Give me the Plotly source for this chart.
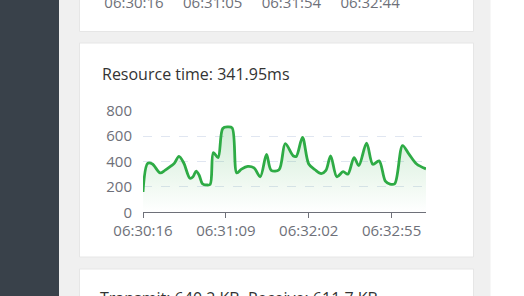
import plotly.graph_objects as go
from datetime import datetime

# ---------------- data ----------------
times = ["06:30:16", "06:30:19", "06:30:22", "06:30:27", "06:30:30", "06:30:34", "06:30:36",
         "06:30:39", "06:30:42", "06:30:46", "06:30:48", "06:30:50", "06:30:52", "06:30:54",
         "06:30:57", "06:30:59", "06:31:01", "06:31:04", "06:31:07", "06:31:10", "06:31:13",
         "06:31:16", "06:31:19", "06:31:23", "06:31:27", "06:31:31", "06:31:35", "06:31:38",
         "06:31:43", "06:31:47", "06:31:52", "06:31:54", "06:31:58", "06:32:02", "06:32:06",
         "06:32:10", "06:32:13", "06:32:16", "06:32:20", "06:32:24", "06:32:27", "06:32:31",
         "06:32:34", "06:32:39", "06:32:43", "06:32:47", "06:32:51", "06:32:54", "06:32:57",
         "06:33:02", "06:33:06", "06:33:11", "06:33:17"]
resource_ms = [160, 385, 380, 310, 330, 365, 385,
               440, 390, 268, 280, 325, 290, 225,
               215, 220, 470, 430, 660, 672, 665,
               310, 340, 362, 350, 280, 455, 330,
               335, 540, 445, 440, 590, 380, 335,
               305, 330, 445, 280, 320, 300, 430,
               368, 545, 378, 405, 245, 222, 225,
               525, 460, 380, 341.95]
x_tick_labels = ["06:30:16", "06:31:09", "06:32:02", "06:32:55"]
y_ticks = [0, 200, 400, 600, 800]
top_card_labels = ["06:30:16", "06:31:05", "06:31:54", "06:32:44"]
title_text = "Resource time: 341.95ms"
bottom_text = "Transmit: 640.2 KB, Receive: 611.7 KB"

DAY = "2024-01-01 "
xs = [datetime.strptime(DAY + t, "%Y-%m-%d %H:%M:%S") for t in times]
tick_x = [datetime.strptime(DAY + t, "%Y-%m-%d %H:%M:%S") for t in x_tick_labels]

W, H = 524, 296
def px(x):
    return x / W
def py(y):
    return 1 - y / H

GREEN = "#2eab45"
AXIS = "#6e7079"
FONT = "Open Sans, Noto Sans, sans-serif"
TICK_SIZE = 15

fig = go.Figure()
fig.add_trace(go.Scatter(
    x=xs, y=resource_ms, mode="lines",
    line=dict(color=GREEN, width=2.8, shape="spline", smoothing=0.9),
    fill="tozeroy",
    fillgradient=dict(type="vertical",
                      colorscale=[[0, "rgba(46,171,69,0.0)"], [1, "rgba(46,171,69,0.22)"]]),
    hoverinfo="skip", showlegend=False,
))

# overlay page-level texts (clipped at the page edges like the reference)
fig.add_trace(go.Scatter(
    x=[134 + 78.7 * i for i in range(len(top_card_labels))], y=[4] * len(top_card_labels),
    text=top_card_labels, mode="text", textposition="middle center",
    textfont=dict(family=FONT, size=TICK_SIZE, color=AXIS), cliponaxis=True,
    xaxis="x2", yaxis="y2", hoverinfo="skip", showlegend=False,
))
fig.add_trace(go.Scatter(
    x=[100], y=[300], text=[bottom_text], mode="text", textposition="middle right",
    textfont=dict(family=FONT, size=16, color="#333333"), cliponaxis=True,
    xaxis="x2", yaxis="y2", hoverinfo="skip", showlegend=False,
))

shapes = [
    dict(type="rect", xref="paper", yref="paper", x0=px(59), x1=px(490.5), y0=0, y1=1,
         fillcolor="#f0f0f0", line=dict(width=0), layer="below"),
    dict(type="rect", xref="paper", yref="paper", x0=0, x1=px(59), y0=0, y1=1,
         fillcolor="#39414a", line=dict(width=0), layer="below"),
]
for (y0, y1) in [(-10, 31.5), (43, 257), (269, 310)]:
    shapes.append(dict(type="rect", xref="paper", yref="paper",
                       x0=px(79.5), x1=px(473.5), y0=py(y1), y1=py(y0),
                       fillcolor="#ffffff", line=dict(color="#e6e6e6", width=1), layer="below"))

annotations = [
    dict(text=title_text, xref="paper", yref="paper", x=px(100), y=py(74),
         xanchor="left", yanchor="middle", showarrow=False,
         font=dict(family=FONT, size=16, color="#333333")),
]

fig.update_layout(
    width=W, height=H, autosize=False,
    margin=dict(l=0, r=0, t=0, b=0, autoexpand=False),
    paper_bgcolor="#ffffff", plot_bgcolor="rgba(0,0,0,0)",
    shapes=shapes, annotations=annotations,
    xaxis=dict(domain=[px(143), px(426)], type="date",
               range=[xs[0], xs[-1]],
               tickvals=tick_x, ticktext=x_tick_labels,
               showgrid=False, zeroline=False,
               showline=True, linecolor=AXIS, linewidth=1,
               ticks="outside", ticklen=5, tickcolor=AXIS,
               tickfont=dict(family=FONT, size=TICK_SIZE, color=AXIS)),
    yaxis=dict(domain=[py(212.3), py(110.7)], range=[0, 800],
               tickvals=y_ticks, ticktext=[str(v) for v in y_ticks],
               showgrid=True, gridcolor="#e0e6f1", griddash="dash", gridwidth=1,
               zeroline=False, showline=False,
               ticks="outside", ticklen=7, tickcolor="rgba(0,0,0,0)",
               tickfont=dict(family=FONT, size=TICK_SIZE, color=AXIS)),
    xaxis2=dict(domain=[0, 1], range=[0, W], visible=False, anchor="y2", fixedrange=True),
    yaxis2=dict(domain=[0, 1], range=[H, 0], visible=False, anchor="x2", fixedrange=True),
)

fig.write_html("out.html")
